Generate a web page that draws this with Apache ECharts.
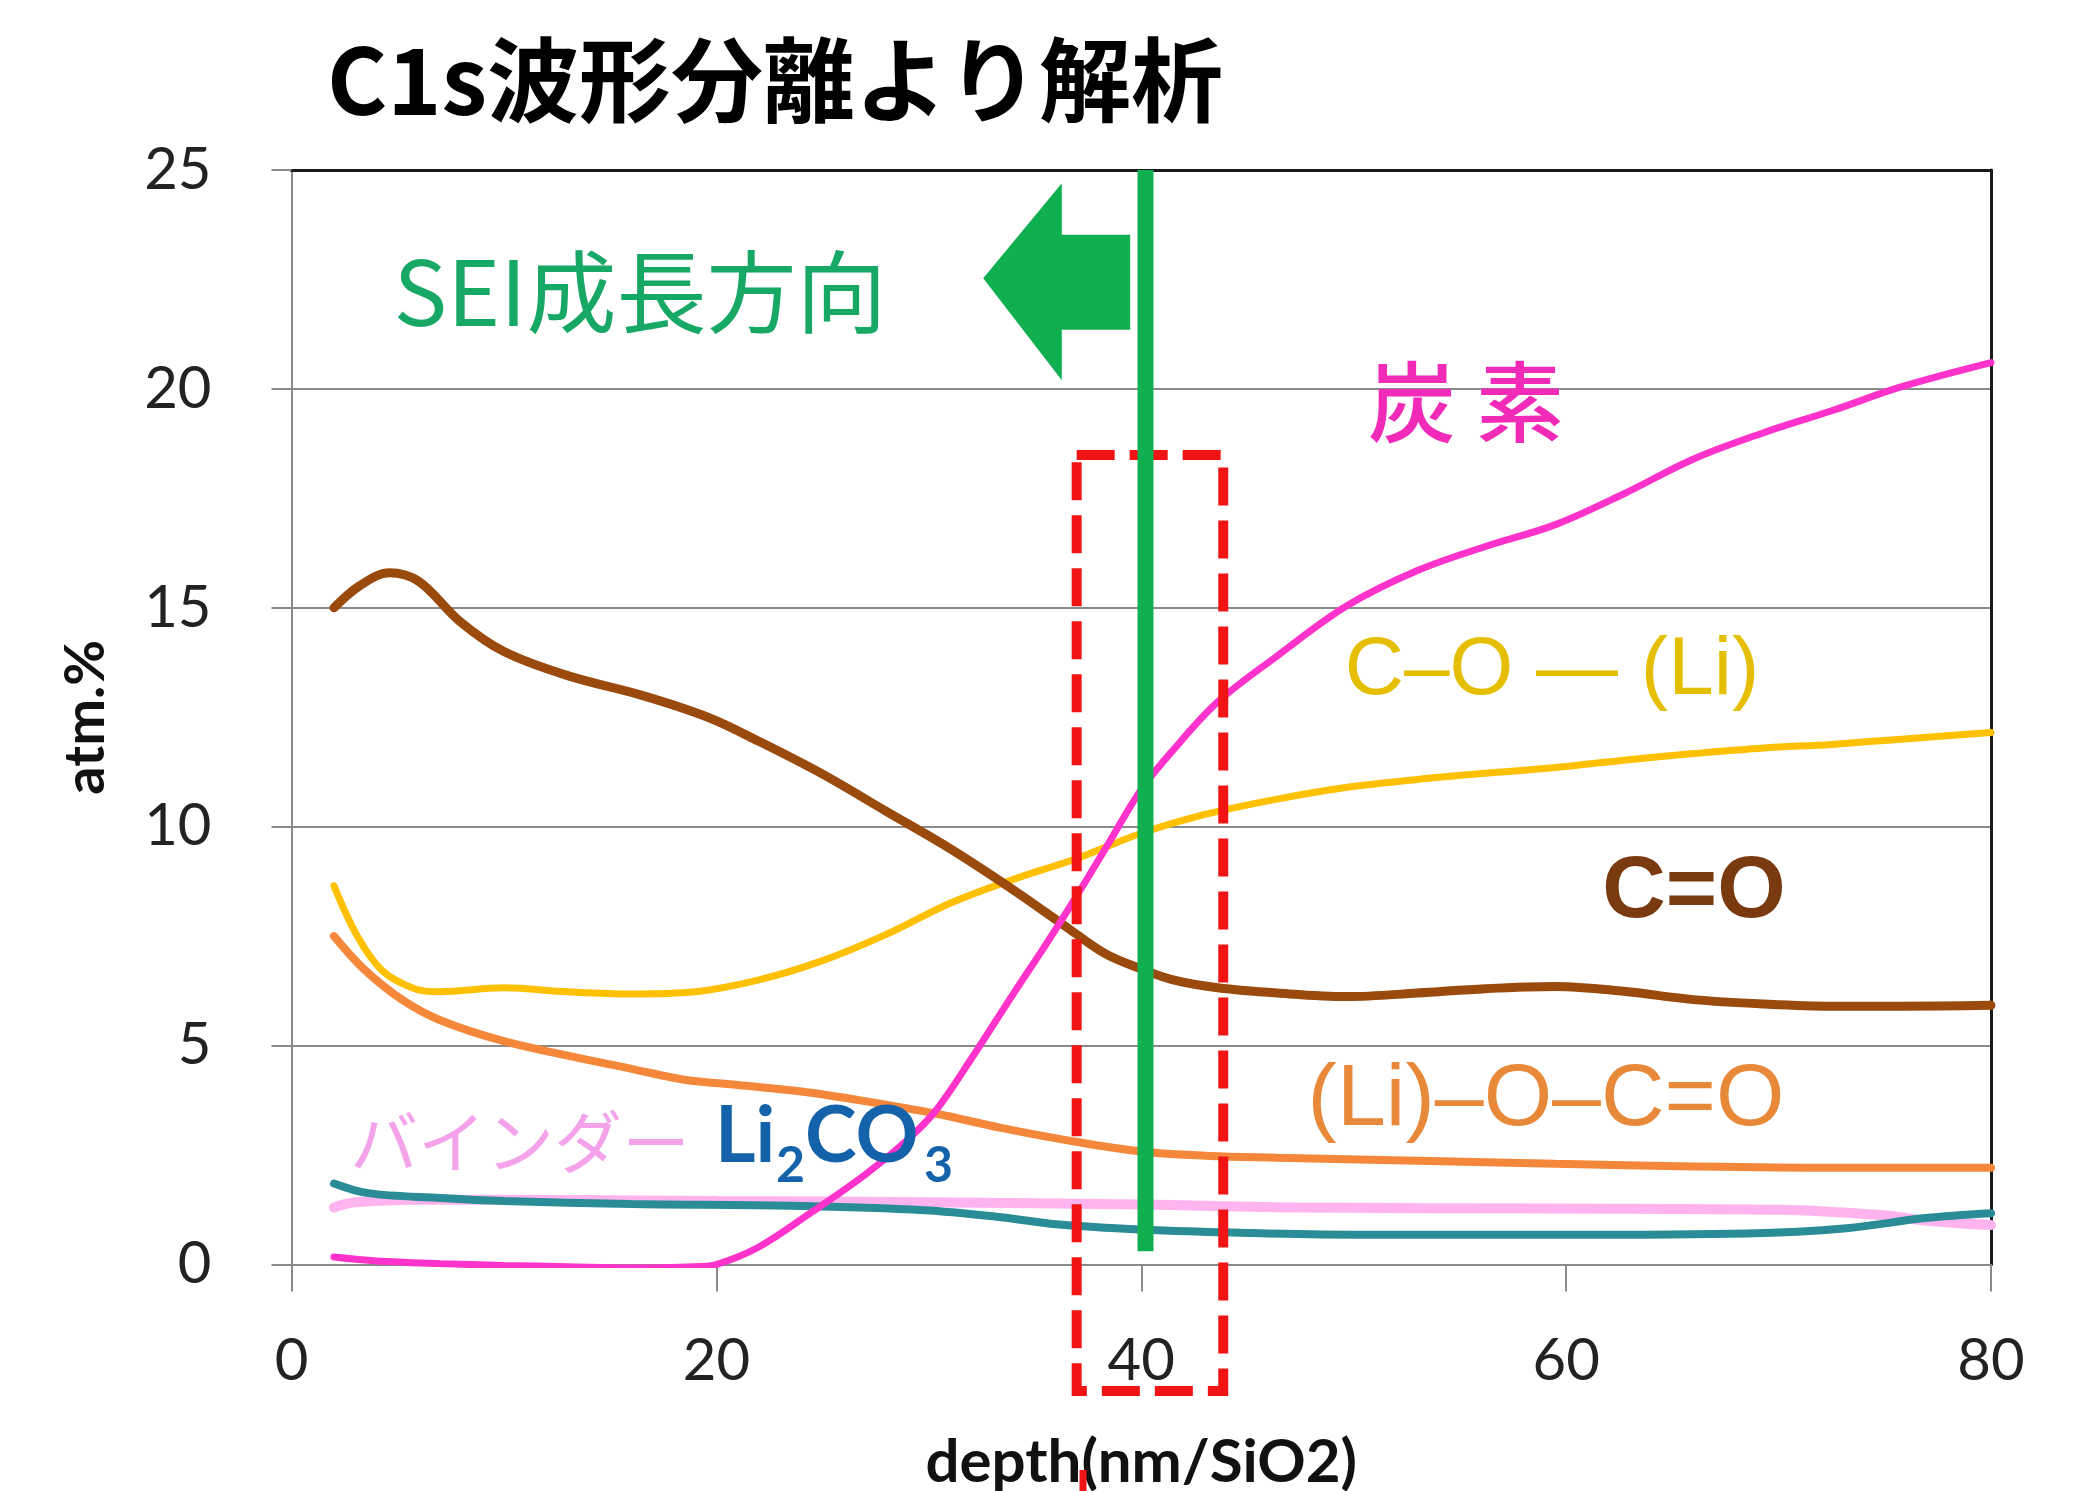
<!DOCTYPE html>
<html><head><meta charset="utf-8">
<script src="https://cdn.jsdelivr.net/npm/echarts@6/dist/echarts.min.js"></script>
<style>html,body{margin:0;padding:0;background:#fff}#c{width:2087px;height:1491px}</style>
</head><body><div id="c"></div>
<script>
// ---- data (depth nm/SiO2, atm.%) ----
const xTickValues = [0, 20, 40, 60, 80];
const yTickValues = [0, 5, 10, 15, 20, 25];
const binderData = [[2,1.3],[3,1.42],[6,1.48],[10,1.48],[20,1.45],[30,1.42],[40,1.37],[47.5,1.3],[60,1.28],[70,1.25],[74.8,1.13],[77,1.0],[80,0.9]];
const li2co3Data = [[2,1.85],[3.6,1.63],[7,1.52],[10,1.45],[16,1.38],[23.5,1.34],[29.8,1.24],[33.4,1.08],[36,0.92],[40,0.8],[45,0.72],[50,0.68],[60,0.68],[68.5,0.71],[73.2,0.83],[76.9,1.06],[80,1.17]];
const liOCOData = [[2,7.5],[3.4,6.75],[5.2,6.05],[7,5.58],[10,5.1],[13,4.77],[16,4.47],[18.5,4.22],[21,4.1],[24,3.95],[27,3.73],[30.3,3.45],[33.4,3.12],[36.6,2.83],[40,2.58],[43.2,2.48],[46.4,2.44],[53,2.37],[59.5,2.3],[66,2.24],[72.5,2.21],[80,2.21]];
const cOLiData = [[2,8.65],[3.1,7.5],[4.3,6.7],[5.8,6.3],[7,6.23],[10,6.32],[13,6.23],[16,6.18],[19,6.23],[22,6.5],[25,6.94],[28,7.54],[31,8.25],[34,8.8],[37,9.28],[40,9.85],[43,10.28],[46.4,10.63],[49.7,10.9],[53,11.08],[56.2,11.22],[59.5,11.35],[62.7,11.52],[66,11.67],[69.3,11.8],[72.5,11.88],[75.8,12.0],[80,12.15]];
const cEqOData = [[2,15.0],[3.2,15.5],[4.6,15.8],[6,15.6],[7.9,14.7],[10,14.0],[13,13.45],[16.5,13.0],[19.6,12.5],[22,11.95],[25,11.2],[28,10.35],[31,9.5],[34,8.55],[36.5,7.7],[38.3,7.1],[40,6.75],[41.5,6.5],[43.6,6.32],[46.4,6.2],[49.7,6.12],[53,6.2],[56.2,6.3],[59.5,6.35],[62.7,6.24],[66,6.05],[69.3,5.95],[72.5,5.9],[75.8,5.9],[80,5.92]];
const carbonData = [[2,0.17],[4,0.08],[7,0.02],[10,-0.02],[13,-0.05],[16,-0.08],[19,-0.05],[20,0],[22,0.4],[24.5,1.2],[27,2.05],[29,2.85],[30.3,3.5],[32,4.7],[34,6.2],[35.5,7.3],[37,8.45],[38.5,9.65],[40,10.85],[41.5,11.75],[43.6,12.85],[46.4,13.9],[49.7,15.05],[53,15.85],[56.2,16.4],[59.5,16.9],[62.7,17.6],[66,18.4],[69.3,19.0],[72.5,19.5],[75.8,20.05],[80,20.6]];
const seiLineX = 40.2;

const CJK = '"Noto Sans CJK JP", sans-serif';
const LAT = 'Lato, "Noto Sans", sans-serif';
const ARL = '"Liberation Sans", Arial, sans-serif';

const chart = echarts.init(document.getElementById('c'), null, {renderer: 'canvas'});

function lineSeries(name, data, color, width) {
  return {name, type: 'line', data, smooth: 0.35, showSymbol: false, symbol: 'none',
    lineStyle: {color, width, cap: 'round'}, itemStyle: {color}, z: 3, animation: false};
}

const option = {
  backgroundColor: '#ffffff',
  animation: false,
  grid: {left: 291.5, right: 96, top: 170, bottom: 226.5, containLabel: false, outerBoundsMode: 'none'},
  xAxis: [{
    type: 'value', min: 0, max: 80, interval: 20, position: 'bottom',
    name: 'depth(nm/SiO2)', nameLocation: 'middle', nameGap: 168,
    nameTextStyle: {fontFamily: LAT, fontWeight: 'bold', fontSize: 60, color: '#111'},
    axisLine: {show: true, onZero: false, lineStyle: {color: '#8a8a8a', width: 2}},
    axisTick: {show: true, length: 27, lineStyle: {color: '#8a8a8a', width: 2}},
    axisLabel: {margin: 68, fontFamily: LAT, fontSize: 58, color: '#222',
      customValues: xTickValues},
    splitLine: {show: false}
  }, {
    type: 'value', min: 0, max: 80, position: 'top',
    axisLine: {show: true, onZero: false, lineStyle: {color: '#1a1a1a', width: 3}},
    axisTick: {show: false}, axisLabel: {show: false}, splitLine: {show: false}
  }],
  yAxis: [{
    type: 'value', min: 0, max: 25, interval: 5, position: 'left',
    name: 'atm.%', nameLocation: 'middle', nameGap: 178, nameRotate: 90,
    nameTextStyle: {fontFamily: LAT, fontWeight: 'bold', fontSize: 56, color: '#111'},
    axisLine: {show: true, onZero: false, lineStyle: {color: '#8a8a8a', width: 2}},
    axisTick: {show: true, length: 20, lineStyle: {color: '#8a8a8a', width: 2}},
    axisLabel: {margin: 80, fontFamily: LAT, fontSize: 58, color: '#222'},
    splitLine: {show: true, lineStyle: {color: '#8a8a8a', width: 2}}
  }, {
    type: 'value', min: 0, max: 25, position: 'right',
    axisLine: {show: true, onZero: false, lineStyle: {color: '#1a1a1a', width: 3}},
    axisTick: {show: false}, axisLabel: {show: false}, splitLine: {show: false}
  }],
  series: [
    lineSeries('バインダー', binderData, '#FFB4F0', 10),
    lineSeries('Li2CO3', li2co3Data, '#2A8C96', 8),
    lineSeries('(Li)-O-C=O', liOCOData, '#F5873A', 8),
    lineSeries('C-O-(Li)', cOLiData, '#FFC000', 7),
    lineSeries('C=O', cEqOData, '#9A4A0C', 9),
    lineSeries('炭素', carbonData, '#FF33CC', 7),
    {
      type: 'custom', name: 'annotations', clip: false, z: 10, silent: true,
      data: [[seiLineX, 0]],
      renderItem: function (params, api) {
        const c = (x, y) => api.coord([x, y]);
        const tl = c(36.96, 18.49), br = c(43.86, -2.89);
        const arrowPts = [[32.56,22.53],[36.26,24.70],[36.26,23.52],[39.48,23.52],[39.48,21.35],[36.26,21.35],[36.26,20.2]].map(p => c(p[0], p[1]));
        const gTop = c(seiLineX, 25), gBot = c(seiLineX, 0.3);
        return {type: 'group', children: [
          {type: 'rect', shape: {x: tl[0], y: tl[1], width: br[0]-tl[0], height: br[1]-tl[1]},
           style: {fill: 'none', stroke: '#F01414', lineWidth: 10, lineDash: [38, 15]}},
          {type: 'polygon', shape: {points: arrowPts}, style: {fill: '#10B050'}},
          {type: 'line', shape: {x1: gTop[0], y1: gTop[1], x2: gBot[0], y2: gBot[1]},
           style: {stroke: '#10B050', lineWidth: 16}}
        ]};
      }
    }
  ],
  graphic: [
    {type: 'text', x: 775, y: 80, style: {text: 'C1s波形分離より解析', font: 'bold 92px ' + CJK, fill: '#000', align: 'center', verticalAlign: 'middle'}},
    {type: 'text', x: 640, y: 292, z: 20, style: {text: 'SEI成長方向', font: '90px ' + CJK, fill: '#18A866', align: 'center', verticalAlign: 'middle'}},
    {type: 'text', x: 1466, y: 402, z: 20, style: {text: '炭 素', font: '500 88px ' + CJK, fill: '#F22AB8', align: 'center', verticalAlign: 'middle'}},
    {type: 'text', x: 1552, y: 671, z: 20, style: {text: 'C–O — (Li)', font: '82px ' + ARL, fill: '#E6BE00', align: 'center', verticalAlign: 'middle'}},
    {type: 'text', x: 1694, y: 893, z: 20, style: {text: 'C=O', font: 'bold 88px ' + ARL, fill: '#7A3A10', align: 'center', verticalAlign: 'middle'}},
    {type: 'text', x: 1546, y: 1101, z: 20, style: {text: '(Li)–O–C=O', font: '88px ' + ARL, fill: '#E8893A', align: 'center', verticalAlign: 'middle'}},
    {type: 'text', x: 520, y: 1142, z: 20, style: {text: 'バインダー', font: '68px ' + CJK, fill: '#F4A2EA', align: 'center', verticalAlign: 'middle'}},
    {type: 'text', x: 715, y: 1137, z: 20, style: {text: 'Li', font: 'bold 78px ' + LAT, fill: '#1462AA', align: 'left', verticalAlign: 'middle'}},
    {type: 'text', x: 776, y: 1166, z: 20, style: {text: '2', font: 'bold 50px ' + LAT, fill: '#1462AA', align: 'left', verticalAlign: 'middle'}},
    {type: 'text', x: 805, y: 1137, z: 20, style: {text: 'CO', font: 'bold 78px ' + LAT, fill: '#1462AA', align: 'left', verticalAlign: 'middle'}},
    {type: 'text', x: 924, y: 1166, z: 20, style: {text: '3', font: 'bold 50px ' + LAT, fill: '#1462AA', align: 'left', verticalAlign: 'middle'}},
    {type: 'line', z: 20, shape: {x1: 1083, y1: 1470, x2: 1083, y2: 1491}, style: {stroke: '#F01414', lineWidth: 7}}
  ]
};
chart.setOption(option);
</script>
</body></html>
